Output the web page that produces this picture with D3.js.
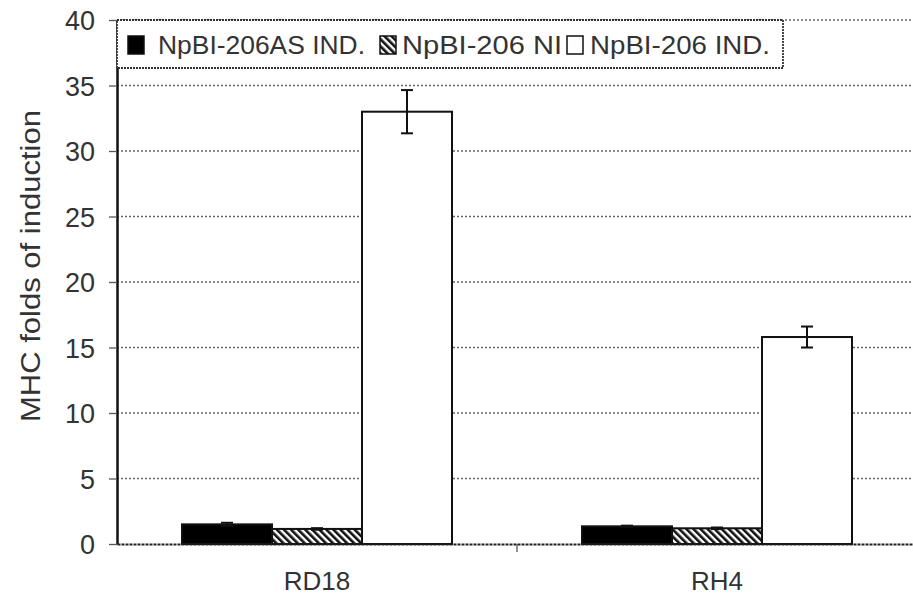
<!DOCTYPE html>
<html><head><meta charset="utf-8">
<script src="https://cdn.jsdelivr.net/npm/d3@7"></script>
<style>body{margin:0;background:#fff}svg{display:block;font-family:Arial,"Liberation Sans",sans-serif}</style>
</head><body><svg id="c" width="913" height="603"></svg>
<script>
const categories = ["RD18", "RH4"];
const seriesNames = ["NpBI-206AS IND.", "NpBI-206 NI", "NpBI-206 IND."];
const valsAS = [1.5, 1.35];
const valsNI = [1.15, 1.2];
const valsIND = [33.0, 15.8];
const errAS = [0.12, 0.05];
const errNI = [0.06, 0.06];
const errIND = [1.65, 0.8];
const yTicks = [0, 5, 10, 15, 20, 25, 30, 35, 40];

const svg = d3.select("#c");
const defs = svg.append("defs");
const pat = defs.append("pattern").attr("id","hatch").attr("patternUnits","userSpaceOnUse")
  .attr("width",5).attr("height",5).attr("patternTransform","rotate(-45)");
pat.append("rect").attr("width",5).attr("height",5).attr("fill","#fff");
pat.append("rect").attr("width",2.6).attr("height",5).attr("fill","#111");

const x0 = d3.scaleBand().domain(categories).range([117, 917]);
const x1 = d3.scaleBand().domain(seriesNames).range([-135, 135]);
const y = d3.scaleLinear().domain([0, 40]).range([544, 20]);

// gridlines
svg.append("g").selectAll("line").data(yTicks.filter(t=>t>0)).join("line")
  .attr("x1",117).attr("x2",913).attr("y1",d=>y(d)).attr("y2",d=>y(d))
  .attr("stroke","#666").attr("stroke-width",1.3).attr("stroke-dasharray","2,2");

const fills = ["#000", "url(#hatch)", "#fff"];
const seriesVals = [valsAS, valsNI, valsIND];
const seriesErr = [errAS, errNI, errIND];
const barData = [];
categories.forEach((c,i)=>seriesNames.forEach((s,j)=>barData.push({c,s,j,v:seriesVals[j][i],e:seriesErr[j][i]})));

svg.append("g").selectAll("rect").data(barData).join("rect")
  .attr("x",d=>x0(d.c)+x0.bandwidth()/2+x1(d.s))
  .attr("width",x1.bandwidth())
  .attr("y",d=>y(d.v)).attr("height",d=>y(0)-y(d.v))
  .attr("fill",d=>fills[d.j]).attr("stroke","#111").attr("stroke-width",2);

// error bars
const eg = svg.append("g").attr("stroke","#111").attr("stroke-width",2);
barData.forEach(d=>{
  const cx = x0(d.c)+x0.bandwidth()/2+x1(d.s)+x1.bandwidth()/2;
  const top = y(d.v+d.e), bot = y(d.v-d.e);
  eg.append("line").attr("x1",cx).attr("x2",cx).attr("y1",top).attr("y2",bot);
  eg.append("line").attr("x1",cx-6).attr("x2",cx+6).attr("y1",top).attr("y2",top);
  eg.append("line").attr("x1",cx-6).attr("x2",cx+6).attr("y1",bot).attr("y2",bot);
});

// y axis
const ya = svg.append("g").attr("transform","translate(117,0)")
  .call(d3.axisLeft(y).tickValues(yTicks).tickSize(8).tickPadding(14).tickSizeOuter(0));
ya.select(".domain").attr("stroke","#111").attr("stroke-width",2.5);
ya.selectAll(".tick line").attr("stroke","#555").attr("stroke-width",1.3);
ya.selectAll(".tick text").attr("font-size",27).attr("fill","#333").attr("font-family","Arial, 'Liberation Sans', sans-serif").attr("dy","0.36em");

// x axis
const xa = svg.append("g").attr("transform","translate(0,544)")
  .call(d3.axisBottom(x0).tickSize(0).tickPadding(28));
xa.select(".domain").attr("stroke","#222").attr("stroke-width",2).attr("stroke-dasharray","3,1");
xa.selectAll(".tick text").attr("font-size",26).attr("fill","#333").attr("font-family","Arial, 'Liberation Sans', sans-serif");
svg.append("line").attr("x1",x0("RH4")).attr("x2",x0("RH4")).attr("y1",544).attr("y2",552)
  .attr("stroke","#555").attr("stroke-width",1.3);

// y label
svg.append("text").attr("transform","translate(40,266) rotate(-90)")
  .attr("text-anchor","middle").attr("font-size",27).attr("fill","#333")
  .attr("textLength",312).attr("lengthAdjust","spacingAndGlyphs")
  .text("MHC folds of induction");

// legend
const lg = svg.append("g");
lg.append("rect").attr("x",117).attr("y",20).attr("width",666).attr("height",48)
  .attr("fill","#fff").attr("stroke","#333").attr("stroke-width",1.8).attr("stroke-dasharray","2,1");
const legPos = [[128,158,207],[380,402,160],[567,590,180]];
seriesNames.forEach((s,j)=>{
  const p = legPos[j];
  lg.append("rect").attr("x",p[0]).attr("y",36).attr("width",16).attr("height",18)
    .attr("fill",fills[j]).attr("stroke","#111").attr("stroke-width",1.5);
  lg.append("text").attr("x",p[1]).attr("y",54).attr("font-size",26).attr("fill","#333")
    .attr("textLength",p[2]).attr("lengthAdjust","spacingAndGlyphs").text(s);
});
</script></body></html>
